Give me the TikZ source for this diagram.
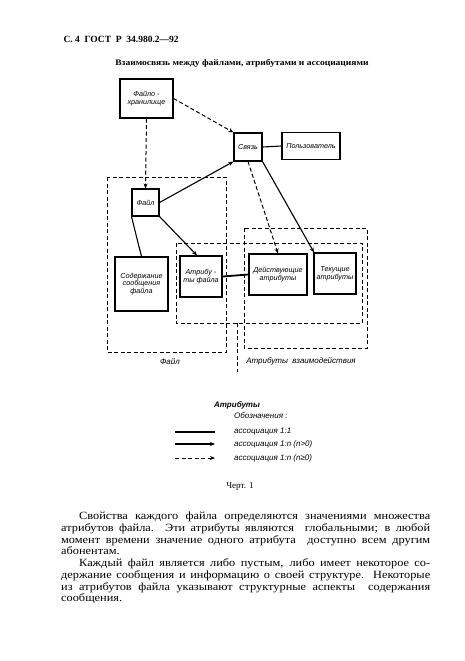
\documentclass[tikz,border=0pt]{standalone}
\usepackage{fontspec}
\setmainfont{Liberation Serif}
\newfontfamily\bodyfont{Liberation Serif}[FakeStretch=1.12]
\newfontfamily\lblfont{Liberation Sans}
\usetikzlibrary{arrows.meta}

\tikzset{
  box/.style={draw, line width=1.1pt, inner sep=1pt, align=center, font=\lblfont\itshape\fontsize{7.2}{7.8}\selectfont},
  group/.style={draw, line width=0.7pt, dash pattern=on 4pt off 2.5pt},
  one/.style={line width=1.8pt},
  many/.style={line width=1.1pt, -{Stealth[length=5pt,width=4pt]}},
  maybe/.style={line width=1pt, dash pattern=on 4pt off 2.5pt, -{Stealth[length=5pt,width=4pt]}},
  lbl/.style={inner sep=0pt, font=\lblfont\itshape\fontsize{8}{9}\selectfont}
}

\begin{document}
\begin{tikzpicture}[x=1pt,y=-1pt]
  \useasboundingbox (0,0) rectangle (465,661);
  \node[anchor=west, font=\bfseries\fontsize{9.5}{10}\selectfont] (head) at (60,39) {С. 4\ \ ГОСТ\ \ Р\ \ 34.980.2—92};
  \node[font=\bodyfont\bfseries\fontsize{8.5}{9}\selectfont] (title) at (242,63) {Взаимосвязь между файлами, атрибутами и ассоциациями};

  \draw[group] (107,177) rectangle (226,352);
  \draw[group] (244,228) rectangle (367,348);
  \draw[group] (176,243) rectangle (362,323);
  \coordinate (attrs) at (237,323);
  \coordinate (attrs-end) at (237,372);
  \draw[group] (attrs) -- (attrs-end);

  \node[box, minimum width=53pt, minimum height=39pt] (store) at (146.5,98.5) {Файло -\\хранилище};
  \node[box, minimum width=28pt, minimum height=28pt] (link) at (248,147) {Связь};
  \node[box, minimum width=58pt, minimum height=27pt] (user) at (311,146) {Пользователь};
  \node[box, minimum width=27pt, minimum height=27pt] (file) at (145.5,202.5) {Файл};
  \node[box, minimum width=53pt, minimum height=54pt] (content) at (141.5,284) {Содержание\\сообщения\\файла};
  \node[box, minimum width=42pt, minimum height=41pt] (fattr) at (201,276.5) {Атрибу -\\ты файла};
  \node[box, minimum width=58pt, minimum height=41pt] (actattr) at (278,274.5) {Действующие\\атрибуты};
  \node[box, minimum width=42pt, minimum height=41pt] (curattr) at (335,273.5) {Текущие\\атрибуты};

  \draw[maybe] (store.east) -- (link.north west);
  \draw[maybe] (store.south) -- (file.north);
  \draw[many] (file.east) -- (link.south west);
  \draw[line width=1.1pt] (file.south west) -- (content.north);
  \draw[many] (file.south east) -- ([xshift=-4pt]fattr.north);
  \draw[one] (fattr.east) -- (actattr.west);
  \draw[line width=1.1pt] (link.east) -- (user.west);
  \draw[maybe] (link.south) -- (actattr.north);
  \draw[many] (link.south east) -- ([xshift=-21pt]curattr.north);

  \node[lbl] (filelbl) at (170,362) {Файл};
  \node[lbl] (iattrlbl) at (301,361) {Атрибуты\ \ взаимодействия};

  \node[lbl, font=\lblfont\itshape\bfseries\fontsize{8}{9}\selectfont] (legtitle) at (237,405) {Атрибуты};
  \node[lbl, anchor=west] (legnote) at (234,416) {Обозначения :};
  \coordinate (one-a) at (175,432);
  \coordinate (one-b) at (215,432);
  \coordinate (many-a) at (175,444);
  \coordinate (many-b) at (215,444);
  \coordinate (maybe-a) at (175,458);
  \coordinate (maybe-b) at (215,458);
  \draw[one] (one-a) -- (one-b);
  \draw[many] (many-a) -- (many-b);
  \draw[maybe] (maybe-a) -- (maybe-b);
  \node[lbl, anchor=west] (onelbl) at (234,432) {ассоциация 1:1};
  \node[lbl, anchor=west] (manylbl) at (234,444) {ассоциация 1:n (n>0)};
  \node[lbl, anchor=west] (maybelbl) at (234,458) {ассоциация 1:n (n≥0)};

  \node[font=\fontsize{9}{10}\selectfont] (fig) at (240,486) {Черт. 1};

  \node[anchor=north west, text width=369pt, align=justify, inner sep=0pt, font=\bodyfont\fontsize{11}{11.7}\selectfont] (body) at (61,512)
    {\hspace*{18pt}Свойства каждого файла определяются значениями множества\linebreak
     атрибутов файла. Эти атрибуты являются \ глобальными; в любой\linebreak
     момент времени значение одного атрибута \ доступно всем другим\linebreak
     абонентам.\par
     \hspace*{18pt}Каждый файл является либо пустым, либо имеет некоторое со-\linebreak
     держание сообщения и информацию о своей структуре. Некоторые\linebreak
     из атрибутов файла указывают структурные аспекты \ содержания\linebreak
     сообщения.};
\end{tikzpicture}
\end{document}
